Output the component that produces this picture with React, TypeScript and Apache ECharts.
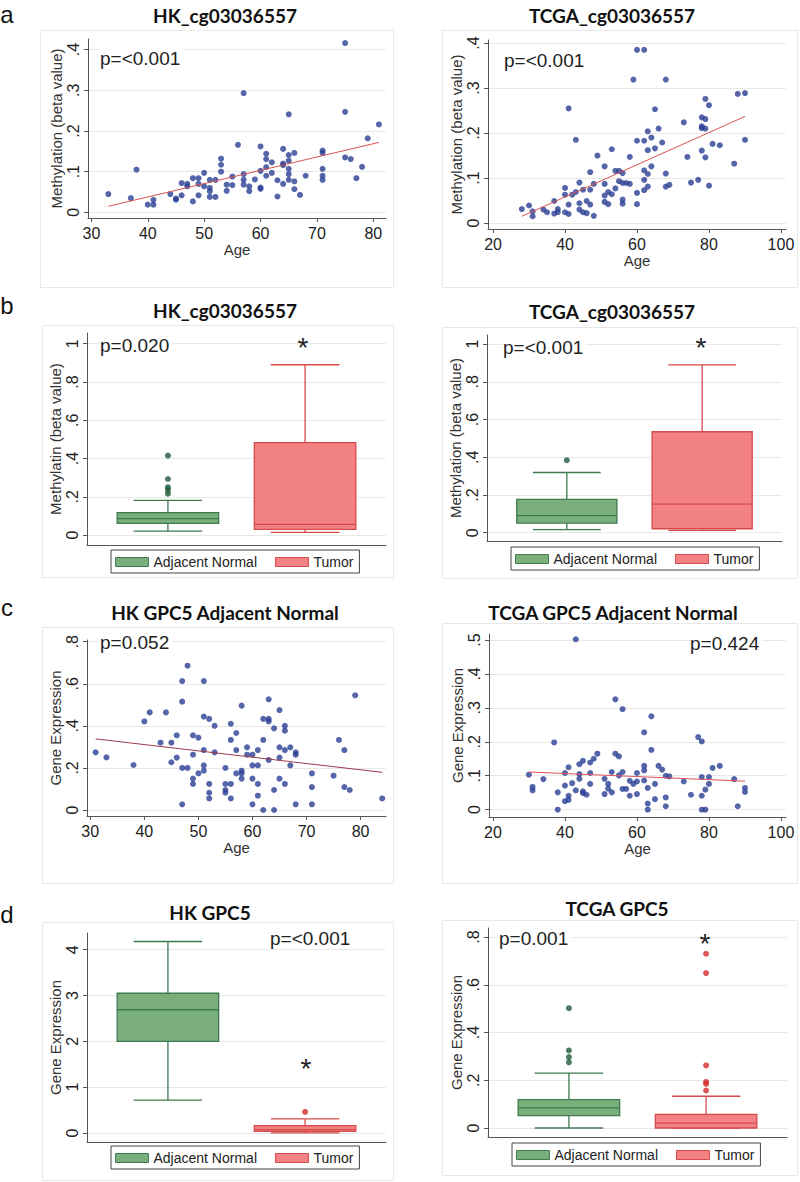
import React, { useEffect, useRef } from 'react';
import * as echarts from 'echarts';

// ---------- data ----------
const hkMethAgePoints: [number, number][] = [
  [33,0.045],[37,0.035],[38,0.105],[40,0.019],[41,0.031],[41,0.019],[44,0.045],[45,0.034],[45,0.031],[46,0.072],
  [46,0.042],[47,0.07],[47,0.064],[48,0.084],[48,0.027],[49,0.084],[49,0.07],[49,0.042],[50,0.097],[50,0.064],
  [51,0.08],[51,0.06],[51,0.052],[51,0.038],[52,0.08],[52,0.038],[53,0.132],[53,0.117],[53,0.1],[54,0.068],
  [54,0.053],[55,0.088],[55,0.067],[56,0.166],[57,0.293],[57,0.094],[57,0.08],[57,0.068],[58,0.064],[58,0.052],
  [59,0.081],[60,0.162],[60,0.102],[60,0.061],[60,0.058],[61,0.144],[61,0.131],[61,0.111],[61,0.09],[62,0.123],
  [62,0.097],[63,0.079],[63,0.039],[64,0.156],[64,0.12],[64,0.116],[64,0.07],[65,0.241],[65,0.141],[65,0.127],
  [65,0.107],[65,0.094],[65,0.08],[66,0.146],[66,0.076],[66,0.057],[67,0.043],[68,0.09],[71,0.152],[71,0.146],
  [71,0.107],[71,0.09],[71,0.08],[75,0.416],[75,0.247],[75,0.135],[76,0.131],[77,0.084],[78,0.112],[79,0.182],[81,0.216],
];
const hkMethFit: [number, number][] = [[33, 0.015], [81, 0.172]];

const tcgaMethAgePoints: [number, number][] = [
  [28,0.031],[30,0.039],[31,0.026],[31,0.015],[34,0.03],[35,0.024],[37,0.049],[37,0.021],[38,0.031],[38,0.024],
  [40,0.078],[40,0.063],[40,0.024],[41,0.255],[41,0.041],[41,0.02],[42,0.063],[43,0.185],[43,0.069],[44,0.09],
  [44,0.044],[44,0.03],[45,0.074],[45,0.024],[46,0.049],[46,0.022],[47,0.113],[47,0.074],[47,0.041],[48,0.087],
  [48,0.016],[49,0.15],[51,0.126],[51,0.087],[51,0.061],[51,0.047],[52,0.069],[52,0.042],[53,0.164],[53,0.064],
  [54,0.077],[54,0.116],[55,0.116],[55,0.093],[56,0.111],[56,0.089],[56,0.052],[56,0.043],[57,0.089],[58,0.087],
  [58,0.147],[59,0.319],[60,0.385],[60,0.183],[60,0.067],[60,0.042],[62,0.385],[62,0.183],[62,0.117],[62,0.096],
  [62,0.073],[63,0.204],[63,0.162],[63,0.109],[63,0.081],[64,0.19],[64,0.126],[65,0.253],[65,0.166],[66,0.21],
  [67,0.179],[68,0.319],[68,0.11],[68,0.081],[69,0.085],[73,0.224],[74,0.147],[75,0.09],[77,0.096],[78,0.235],
  [78,0.215],[78,0.211],[78,0.161],[79,0.276],[79,0.231],[79,0.21],[79,0.146],[80,0.262],[80,0.083],[81,0.176],
  [83,0.173],[87,0.132],[88,0.287],[90,0.289],[90,0.185],
];
const tcgaMethFit: [number, number][] = [[28, 0.015], [90, 0.237]];

// box rows: [group position, lower whisker, q1, median, q3, upper whisker]
const hkMethBoxNormal = [[1, 0.021, 0.061, 0.086, 0.117, 0.181]];
const hkMethBoxTumor = [[2, 0.014, 0.03, 0.056, 0.483, 0.89]];
const hkMethOutNormal: [number, number][] = [[1,0.415],[1,0.293],[1,0.25],[1,0.236],[1,0.216]];
const hkMethOutTumor: [number, number][] = [];

const tcgaMethBoxNormal = [[1, 0.016, 0.051, 0.09, 0.177, 0.319]];
const tcgaMethBoxTumor = [[2, 0.012, 0.021, 0.152, 0.535, 0.89]];
const tcgaMethOutNormal: [number, number][] = [[1, 0.384]];
const tcgaMethOutTumor: [number, number][] = [];

const hkGpc5AgePoints: [number, number][] = [
  [31,0.274],[33,0.25],[38,0.214],[40,0.421],[41,0.464],[43,0.32],[44,0.464],[45,0.32],[45,0.227],[46,0.355],
  [46,0.249],[47,0.613],[47,0.515],[47,0.2],[47,0.027],[48,0.686],[48,0.2],[49,0.355],[49,0.263],[49,0.149],
  [49,0.124],[50,0.344],[50,0.174],[51,0.613],[51,0.444],[51,0.285],[51,0.212],[51,0.187],[52,0.433],[52,0.124],
  [52,0.082],[52,0.055],[53,0.4],[53,0.274],[55,0.2],[55,0.124],[55,0.095],[55,0.082],[56,0.41],[56,0.333],
  [56,0.124],[56,0.055],[57,0.366],[57,0.285],[57,0.174],[58,0.496],[58,0.187],[58,0.174],[58,0.149],[59,0.298],
  [59,0.263],[60,0.263],[60,0.212],[60,0.149],[60,0.027],[61,0.285],[61,0.212],[61,0.124],[61,0.068],[62,0.433],
  [62,0.333],[62,0],[63,0.526],[63,0.433],[63,0.421],[63,0.238],[64,0.388],[64,0.095],[64,0],[65,0.475],
  [65,0.298],[65,0.249],[65,0.149],[66,0.4],[66,0.377],[66,0.285],[66,0.124],[67,0.298],[67,0.212],[68,0.274],
  [68,0.263],[68,0.027],[71,0.174],[71,0.109],[71,0.027],[75,0.163],[76,0.333],[77,0.285],[77,0.109],[78,0.095],
  [79,0.545],[84,0.055],
];
const hkGpc5Fit: [number, number][] = [[31, 0.338], [84, 0.179]];

const tcgaGpc5AgePoints: [number, number][] = [
  [30,0.103],[31,0.067],[31,0.057],[34,0.09],[37,0.198],[38,0.051],[38,0],[40,0.108],[40,0.071],[40,0.025],
  [41,0.125],[41,0.041],[41,0.029],[42,0.078],[43,0.502],[43,0.057],[44,0.134],[44,0.105],[44,0.091],[45,0.144],
  [45,0.054],[45,0.049],[46,0.044],[47,0.139],[47,0.108],[47,0.076],[48,0.15],[49,0.165],[51,0.091],[51,0.046],
  [52,0.076],[52,0.062],[53,0.111],[53,0.051],[54,0.325],[54,0.165],[55,0.157],[55,0.101],[56,0.296],[56,0.111],
  [56,0.061],[57,0.061],[58,0.085],[58,0.041],[59,0.076],[60,0.108],[60,0.083],[60,0.046],[62,0.228],[62,0.129],
  [62,0.116],[62,0.086],[63,0.064],[63,0.018],[63,0],[64,0.275],[64,0.176],[65,0.076],[65,0.031],[66,0.129],
  [67,0.118],[68,0.1],[68,0.036],[68,0.01],[69,0.098],[73,0.083],[75,0.044],[77,0.214],[78,0.201],[78,0.096],
  [78,0.041],[78,0],[79,0],[79,0.059],[80,0.096],[80,0.076],[81,0.123],[83,0.129],[87,0.09],[88,0.01],
  [90,0.064],[90,0.052],
];
const tcgaGpc5Fit: [number, number][] = [[30, 0.111], [90, 0.084]];

const hkGpc5BoxNormal = [[1, 0.715, 2.0, 2.69, 3.05, 4.18]];
const hkGpc5BoxTumor = [[2, 0.0, 0.036, 0.073, 0.16, 0.307]];
const hkGpc5OutNormal: [number, number][] = [];
const hkGpc5OutTumor: [number, number][] = [[2, 0.46]];

const tcgaGpc5BoxNormal = [[1, 0.0, 0.052, 0.084, 0.119, 0.23]];
const tcgaGpc5BoxTumor = [[2, 0.0, 0.0, 0.02, 0.057, 0.133]];
const tcgaGpc5OutNormal: [number, number][] = [[1,0.502],[1,0.325],[1,0.297],[1,0.275]];
const tcgaGpc5OutTumor: [number, number][] = [[2,0.73],[2,0.649],[2,0.262],[2,0.193],[2,0.185],[2,0.157]];

// tick labels
const ageTicks30 = [30, 40, 50, 60, 70, 80];
const ageTicks20 = [20, 40, 60, 80, 100];
const tick04 = [0, 0.1, 0.2, 0.3, 0.4];
const tick05 = [0, 0.1, 0.2, 0.3, 0.4, 0.5];
const tick1 = [0, 0.2, 0.4, 0.6, 0.8, 1];
const tick08 = [0, 0.2, 0.4, 0.6, 0.8];
const tick4 = [0, 1, 2, 3, 4];
const groupNames = ['Adjacent Normal', 'Tumor'];

// ---------- styling ----------
const AX_FONT = 'Liberation Sans';
const TITLE_FONT = 'Lato';
const DOT = '#2b3f93';
const GREEN_FILL = '#7aaf7c';
const GREEN_LINE = '#3f7a50';
const GREEN_DOT = '#1f5a3c';
const RED_FILL = '#f28283';
const RED_LINE = '#d64a4a';
const RED_DOT = '#d42a2a';
const BOX_W = 0.74;
const CAP_W = 0.5;

const fmt = (v: number) => {
  if (v === 0) return '0';
  const s = String(+Number(v).toFixed(2));
  return s.startsWith('0.') ? s.slice(1) : s;
};

type Rect = { left: number; top: number; width: number; height: number };

export default function App() {
  const ref = useRef<HTMLDivElement>(null);

  useEffect(() => {
    if (!ref.current) return;
    const chart = echarts.init(ref.current, null, { renderer: 'svg' });

    const grids: any[] = [];
    const xAxes: any[] = [];
    const yAxes: any[] = [];
    const series: any[] = [];
    const legends: any[] = [];
    const graphics: any[] = [];

    const yAxisFor = (gi: number, min: number, max: number, ticks: number[], name: string) => ({
      type: 'value', gridIndex: gi, min, max,
      name, nameLocation: 'middle', nameGap: 20,
      nameTextStyle: { fontFamily: AX_FONT, fontSize: 15, color: '#333' },
      axisLine: { show: true, onZero: false, lineStyle: { color: '#555', width: 1 } },
      axisTick: { show: true, customValues: ticks, length: 4, lineStyle: { color: '#555' } },
      axisLabel: { customValues: ticks, rotate: 90, margin: 7, fontFamily: AX_FONT, fontSize: 16, color: '#222', formatter: fmt },
      splitLine: { show: true, lineStyle: { color: '#e8e8e8', width: 1 } },
    });

    const addScatter = (g: Rect, xr: [number, number], yr: [number, number], xt: number[], yt: number[],
      yName: string, pts: [number, number][], fit: [number, number][], fitColor: string) => {
      const gi = grids.length;
      grids.push({ ...g });
      xAxes.push({
        type: 'value', gridIndex: gi, min: xr[0], max: xr[1],
        name: 'Age', nameLocation: 'middle', nameGap: 20,
        nameTextStyle: { fontFamily: AX_FONT, fontSize: 15, color: '#333' },
        axisLine: { show: true, onZero: false, lineStyle: { color: '#555', width: 1 } },
        axisTick: { show: true, customValues: xt, length: 4, lineStyle: { color: '#555' } },
        axisLabel: { customValues: xt, margin: 7, fontFamily: AX_FONT, fontSize: 16, color: '#222', formatter: fmt },
        splitLine: { show: false },
      });
      yAxes.push(yAxisFor(gi, yr[0], yr[1], yt, yName));
      series.push({
        type: 'scatter', xAxisIndex: gi, yAxisIndex: gi, data: pts, symbol: 'circle', symbolSize: 6,
        itemStyle: { color: DOT }, silent: true, z: 3,
      });
      series.push({
        type: 'line', xAxisIndex: gi, yAxisIndex: gi, data: fit, showSymbol: false, symbol: 'none',
        lineStyle: { color: fitColor, width: 1 }, silent: true, z: 4,
      });
    };

    const boxRender = (stroke: string, fill: string) => (params: any, api: any) => {
      const p = api.value(0);
      const low = api.coord([p, api.value(1)]);
      const x = low[0];
      const yLow = low[1];
      const yQ1 = api.coord([p, api.value(2)])[1];
      const yMed = api.coord([p, api.value(3)])[1];
      const yQ3 = api.coord([p, api.value(4)])[1];
      const yHigh = api.coord([p, api.value(5)])[1];
      const w = api.size([BOX_W, 0])[0];
      const c = api.size([CAP_W, 0])[0];
      const ls = { stroke, lineWidth: 1.3 };
      return {
        type: 'group',
        children: [
          { type: 'line', shape: { x1: x, y1: yHigh, x2: x, y2: yQ3 }, style: ls },
          { type: 'line', shape: { x1: x, y1: yQ1, x2: x, y2: yLow }, style: ls },
          { type: 'line', shape: { x1: x - c / 2, y1: yHigh, x2: x + c / 2, y2: yHigh }, style: ls },
          { type: 'line', shape: { x1: x - c / 2, y1: yLow, x2: x + c / 2, y2: yLow }, style: ls },
          { type: 'rect', shape: { x: x - w / 2, y: yQ3, width: w, height: yQ1 - yQ3 }, style: { fill, stroke, lineWidth: 1.3 } },
          { type: 'line', shape: { x1: x - w / 2, y1: yMed, x2: x + w / 2, y2: yMed }, style: ls },
        ],
      };
    };

    const addBox = (g: Rect, yr: [number, number], yt: number[], yName: string,
      boxN: number[][], boxT: number[][], outN: [number, number][], outT: [number, number][],
      legendPos: { left: number; top: number }) => {
      const gi = grids.length;
      grids.push({ ...g });
      xAxes.push({
        type: 'value', gridIndex: gi, min: 0.41, max: 2.59,
        axisLine: { show: true, onZero: false, lineStyle: { color: '#555', width: 1 } },
        axisTick: { show: false }, axisLabel: { show: false }, splitLine: { show: false },
      });
      yAxes.push(yAxisFor(gi, yr[0], yr[1], yt, yName));
      series.push({
        type: 'custom', name: groupNames[0], xAxisIndex: gi, yAxisIndex: gi, data: boxN,
        renderItem: boxRender(GREEN_LINE, GREEN_FILL), encode: { x: 0, y: [1, 2, 3, 4, 5] },
        itemStyle: { color: GREEN_FILL, borderColor: GREEN_LINE }, silent: true, z: 3,
      });
      series.push({
        type: 'custom', name: groupNames[1], xAxisIndex: gi, yAxisIndex: gi, data: boxT,
        renderItem: boxRender(RED_LINE, RED_FILL), encode: { x: 0, y: [1, 2, 3, 4, 5] },
        itemStyle: { color: RED_FILL, borderColor: RED_LINE }, silent: true, z: 3,
      });
      series.push({
        type: 'scatter', name: 'outN' + gi, xAxisIndex: gi, yAxisIndex: gi, data: outN, symbolSize: 6,
        itemStyle: { color: GREEN_DOT }, silent: true, z: 4,
      });
      series.push({
        type: 'scatter', name: 'outT' + gi, xAxisIndex: gi, yAxisIndex: gi, data: outT, symbolSize: 6,
        itemStyle: { color: RED_DOT }, silent: true, z: 4,
      });
      legends.push({
        left: legendPos.left, top: legendPos.top, orient: 'horizontal', selectedMode: false,
        data: [
          { name: groupNames[0], icon: 'rect', itemStyle: { color: GREEN_FILL, borderColor: GREEN_LINE, borderWidth: 1 } },
          { name: groupNames[1], icon: 'rect', itemStyle: { color: RED_FILL, borderColor: RED_LINE, borderWidth: 1 } },
        ],
        itemWidth: 33, itemHeight: 9, itemGap: 18,
        borderColor: '#444', borderWidth: 1, padding: [5, 6, 4, 4],
        textStyle: { fontFamily: AX_FONT, fontSize: 14, color: '#222' },
      });
    };

    // row a
    addScatter({ left: 88, top: 39, width: 298, height: 179 }, [29.4, 82.25], [-0.0138, 0.426], ageTicks30, tick04,
      'Methylation (beta value)', hkMethAgePoints, hkMethFit, '#d9534f');
    addScatter({ left: 488, top: 40, width: 298, height: 189 }, [18.6, 101.4], [-0.0133, 0.407], ageTicks20, tick04,
      'Methylation (beta value)', tcgaMethAgePoints, tcgaMethFit, '#d9534f');
    // row b
    addBox({ left: 87, top: 333, width: 299, height: 212 }, [-0.052, 1.056], tick1, 'Methylatin (beta value)',
      hkMethBoxNormal, hkMethBoxTumor, hkMethOutNormal, hkMethOutTumor, { left: 111, top: 550 });
    addBox({ left: 487, top: 335, width: 295, height: 206 }, [-0.044, 1.048], tick1, 'Methylation (beta value)',
      tcgaMethBoxNormal, tcgaMethBoxTumor, tcgaMethOutNormal, tcgaMethOutTumor, { left: 511, top: 547 });
    // row c
    addScatter({ left: 87, top: 640, width: 299, height: 176 }, [29.4, 84.7], [-0.0285, 0.808], ageTicks30, tick08,
      'Gene Expression', hkGpc5AgePoints, hkGpc5Fit, '#9c3b4a');
    addScatter({ left: 489, top: 634, width: 297, height: 183 }, [18.9, 101.4], [-0.0216, 0.5176], ageTicks20, tick05,
      'Gene Expression', tcgaGpc5AgePoints, tcgaGpc5Fit, '#e0505a');
    // row d
    addBox({ left: 87, top: 933, width: 299, height: 209 }, [-0.197, 4.365], tick4, 'Gene Expression',
      hkGpc5BoxNormal, hkGpc5BoxTumor, hkGpc5OutNormal, hkGpc5OutTumor, { left: 111, top: 1146 });
    addBox({ left: 488, top: 928, width: 299, height: 209 }, [-0.0378, 0.838], tick08, 'Gene Expression',
      tcgaGpc5BoxNormal, tcgaGpc5BoxTumor, tcgaGpc5OutNormal, tcgaGpc5OutTumor, { left: 512, top: 1143 });

    // panel frames
    const frames: Rect[] = [
      { left: 40, top: 30, width: 353, height: 257 },
      { left: 442, top: 30, width: 355, height: 257 },
      { left: 42, top: 325, width: 351, height: 252 },
      { left: 442, top: 327, width: 355, height: 251 },
      { left: 42, top: 627, width: 351, height: 256 },
      { left: 442, top: 623, width: 355, height: 260 },
      { left: 42, top: 922, width: 351, height: 258 },
      { left: 442, top: 920, width: 355, height: 255 },
    ];
    frames.forEach((f) => graphics.push({
      type: 'rect', shape: { x: f.left + 0.5, y: f.top + 0.5, width: f.width, height: f.height },
      style: { fill: 'none', stroke: '#e8e8e8', lineWidth: 1 }, z: -10, silent: true,
    }));

    const titles: [string, number, number][] = [
      ['HK_cg03036557', 225, 15], ['TCGA_cg03036557', 612, 15],
      ['HK_cg03036557', 225, 310], ['TCGA_cg03036557', 612, 311],
      ['HK GPC5 Adjacent Normal', 225, 612], ['TCGA GPC5 Adjacent Normal', 613, 612],
      ['HK GPC5', 210, 912], ['TCGA GPC5', 617, 908],
    ];
    titles.forEach(([t, x, y]) => graphics.push({
      type: 'text', x, y, silent: true,
      style: { text: t, fontFamily: TITLE_FONT, fontWeight: 'bold', fontSize: 19, fill: '#111', align: 'center', verticalAlign: 'middle' },
    }));

    const letters: [string, number, number][] = [['a', 7, 14], ['b', 7, 305], ['c', 7, 607], ['d', 7, 914]];
    letters.forEach(([t, x, y]) => graphics.push({
      type: 'text', x, y, silent: true,
      style: { text: t, fontFamily: AX_FONT, fontSize: 24, fill: '#111', align: 'center', verticalAlign: 'middle' },
    }));

    const pTexts: [string, number, number][] = [
      ['p=<0.001', 100, 58], ['p=<0.001', 504, 60], ['p=0.020', 100, 345], ['p=<0.001', 503, 347],
      ['p=0.052', 100, 642], ['p=0.424', 690, 643], ['p=<0.001', 270, 938], ['p=0.001', 499, 938],
    ];
    pTexts.forEach(([t, x, y]) => graphics.push({
      type: 'text', x, y, silent: true, z: 20,
      style: {
        text: t, fontFamily: AX_FONT, fontSize: 19, fill: '#222', align: 'left', verticalAlign: 'middle',
        backgroundColor: '#ffffff', padding: [1, 3, 1, 0],
      },
    }));

    const stars: [number, number][] = [[303, 342], [701, 342], [306, 1063], [705, 938]];
    stars.forEach(([x, y]) => graphics.push({
      type: 'text', x, y: y + 5, silent: true, z: 20,
      style: { text: '*', fontFamily: AX_FONT, fontSize: 28, fill: '#222', align: 'center', verticalAlign: 'middle' },
    }));

    chart.setOption({
      animation: false,
      backgroundColor: '#ffffff',
      grid: grids,
      xAxis: xAxes,
      yAxis: yAxes,
      series,
      legend: legends,
      graphic: { elements: graphics },
    });

    return () => chart.dispose();
  }, []);

  return <div ref={ref} style={{ position: 'absolute', left: 0, top: 0, width: 800, height: 1182, background: '#fff' }} />;
}
